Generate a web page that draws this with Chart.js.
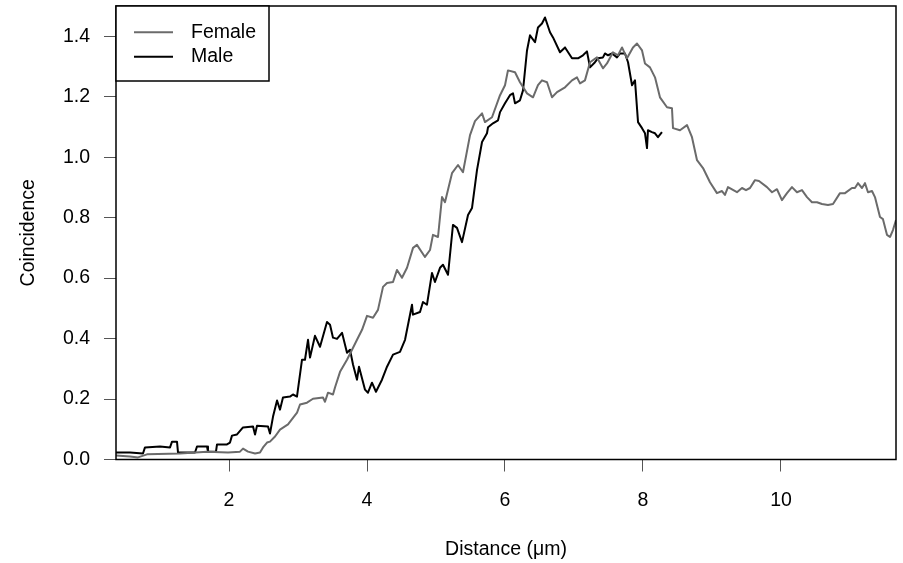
<!DOCTYPE html>
<html>
<head>
<meta charset="utf-8">
<script src="https://cdn.jsdelivr.net/npm/chart.js@4/dist/chart.umd.min.js"></script>
<style>
  body { margin: 0; background: #fff; }
  canvas { display: block; }
</style>
</head>
<body>
<canvas id="coincidenceChart" width="903" height="563"></canvas>
<script>
// values
const femaleX = [0.362, 0.565, 0.681, 0.811, 1.290, 1.681, 1.986, 2.159, 2.203, 2.275, 2.377, 2.449, 2.493, 2.551, 2.594, 2.667, 2.739, 2.855, 2.986, 3.029, 3.130, 3.217, 3.362, 3.391, 3.435, 3.507, 3.536, 3.609, 3.710, 3.783, 3.855, 3.928, 4.000, 4.087, 4.159, 4.232, 4.290, 4.377, 4.435, 4.507, 4.580, 4.667, 4.724, 4.840, 4.913, 4.956, 5.029, 5.087, 5.130, 5.232, 5.319, 5.391, 5.493, 5.565, 5.667, 5.710, 5.812, 5.928, 6.000, 6.043, 6.145, 6.217, 6.319, 6.406, 6.478, 6.536, 6.609, 6.681, 6.754, 6.870, 6.971, 7.043, 7.087, 7.159, 7.232, 7.333, 7.420, 7.478, 7.565, 7.638, 7.696, 7.768, 7.855, 7.913, 7.986, 8.029, 8.101, 8.174, 8.246, 8.348, 8.420, 8.435, 8.536, 8.638, 8.710, 8.783, 8.870, 8.971, 9.072, 9.145, 9.188, 9.232, 9.362, 9.435, 9.493, 9.551, 9.623, 9.681, 9.797, 9.870, 9.942, 10.014, 10.087, 10.159, 10.232, 10.304, 10.377, 10.449, 10.522, 10.594, 10.681, 10.754, 10.855, 10.928, 11.029, 11.072, 11.116, 11.174, 11.217, 11.261, 11.319, 11.362, 11.435, 11.478, 11.536, 11.580, 11.623, 11.667];
const femaleY = [0.013, 0.010, 0.007, 0.017, 0.020, 0.026, 0.023, 0.026, 0.036, 0.026, 0.020, 0.023, 0.040, 0.056, 0.059, 0.076, 0.099, 0.116, 0.155, 0.182, 0.188, 0.201, 0.205, 0.191, 0.221, 0.215, 0.238, 0.290, 0.330, 0.363, 0.396, 0.429, 0.475, 0.469, 0.495, 0.571, 0.584, 0.587, 0.627, 0.601, 0.634, 0.700, 0.710, 0.670, 0.693, 0.743, 0.736, 0.868, 0.851, 0.947, 0.974, 0.950, 1.073, 1.119, 1.145, 1.116, 1.132, 1.205, 1.238, 1.287, 1.281, 1.248, 1.211, 1.198, 1.238, 1.254, 1.248, 1.198, 1.215, 1.231, 1.254, 1.264, 1.244, 1.254, 1.314, 1.330, 1.294, 1.310, 1.347, 1.337, 1.363, 1.327, 1.363, 1.376, 1.353, 1.310, 1.297, 1.264, 1.198, 1.165, 1.162, 1.096, 1.089, 1.106, 1.066, 0.990, 0.964, 0.917, 0.881, 0.888, 0.875, 0.901, 0.884, 0.898, 0.891, 0.898, 0.924, 0.921, 0.901, 0.884, 0.894, 0.858, 0.881, 0.901, 0.884, 0.891, 0.868, 0.851, 0.851, 0.845, 0.842, 0.845, 0.881, 0.881, 0.898, 0.898, 0.914, 0.898, 0.914, 0.884, 0.888, 0.868, 0.802, 0.795, 0.743, 0.736, 0.759, 0.792];

const maleX = [0.362, 0.565, 0.753, 0.782, 1.000, 1.145, 1.174, 1.246, 1.261, 1.507, 1.536, 1.681, 1.695, 1.811, 1.826, 1.971, 2.014, 2.043, 2.116, 2.203, 2.348, 2.377, 2.406, 2.565, 2.594, 2.638, 2.696, 2.739, 2.782, 2.884, 2.927, 2.985, 3.058, 3.101, 3.145, 3.174, 3.246, 3.319, 3.420, 3.464, 3.507, 3.565, 3.638, 3.710, 3.754, 3.797, 3.855, 3.884, 3.971, 4.014, 4.072, 4.130, 4.217, 4.290, 4.377, 4.478, 4.551, 4.652, 4.666, 4.768, 4.811, 4.869, 4.942, 4.985, 5.058, 5.101, 5.174, 5.246, 5.304, 5.377, 5.464, 5.522, 5.594, 5.667, 5.739, 5.754, 5.826, 5.899, 5.928, 6.000, 6.072, 6.116, 6.145, 6.217, 6.261, 6.319, 6.362, 6.435, 6.478, 6.536, 6.580, 6.652, 6.696, 6.797, 6.870, 6.971, 7.058, 7.130, 7.188, 7.232, 7.304, 7.348, 7.420, 7.449, 7.493, 7.551, 7.623, 7.667, 7.739, 7.783, 7.841, 7.884, 7.928, 7.986, 8.029, 8.058, 8.072, 8.130, 8.174, 8.217, 8.275];
const maleY = [0.023, 0.023, 0.020, 0.040, 0.043, 0.040, 0.059, 0.059, 0.023, 0.023, 0.043, 0.043, 0.026, 0.026, 0.050, 0.050, 0.056, 0.079, 0.083, 0.106, 0.109, 0.083, 0.112, 0.109, 0.086, 0.142, 0.195, 0.165, 0.205, 0.208, 0.215, 0.208, 0.330, 0.330, 0.396, 0.337, 0.409, 0.373, 0.455, 0.446, 0.403, 0.399, 0.419, 0.353, 0.363, 0.314, 0.264, 0.307, 0.231, 0.221, 0.254, 0.224, 0.264, 0.307, 0.347, 0.356, 0.396, 0.512, 0.479, 0.488, 0.521, 0.512, 0.617, 0.587, 0.634, 0.644, 0.611, 0.776, 0.766, 0.719, 0.809, 0.832, 0.957, 1.050, 1.079, 1.099, 1.112, 1.122, 1.149, 1.178, 1.205, 1.211, 1.178, 1.188, 1.221, 1.353, 1.403, 1.380, 1.429, 1.442, 1.462, 1.413, 1.396, 1.347, 1.363, 1.327, 1.327, 1.337, 1.350, 1.297, 1.314, 1.327, 1.330, 1.343, 1.337, 1.343, 1.330, 1.343, 1.343, 1.314, 1.238, 1.254, 1.116, 1.096, 1.079, 1.030, 1.089, 1.083, 1.079, 1.066, 1.083];

const seriesNames = ['Female', 'Male'];
const seriesColors = ['#6b6b6b', '#000000'];

const FONT = { family: '"Liberation Sans", Arial, sans-serif', size: 19.5 };

function toPoints(xs, ys) {
  return xs.map((x, i) => ({ x: x, y: ys[i] }));
}

// box around the plotting region, like R's box()
const frame = {
  id: 'frame',
  afterDatasetsDraw(chart) {
    const { ctx, chartArea: a } = chart;
    ctx.save();
    ctx.strokeStyle = '#000';
    ctx.lineWidth = 1.5;
    ctx.strokeRect(a.left, a.top, a.right - a.left, a.bottom - a.top);
    ctx.restore();
  }
};

// legend in the top left corner of the plot
const cornerLegend = {
  id: 'cornerLegend',
  afterDraw(chart) {
    const { ctx, chartArea: a } = chart;
    ctx.save();
    ctx.fillStyle = '#fff';
    ctx.fillRect(a.left, a.top, 153, 75);
    ctx.strokeStyle = '#000';
    ctx.lineWidth = 1.5;
    ctx.strokeRect(a.left, a.top, 153, 75);
    ctx.font = FONT.size + 'px ' + FONT.family;
    ctx.textBaseline = 'middle';
    ctx.textAlign = 'left';
    chart.data.datasets.forEach((ds, i) => {
      const y = a.top + 26.3 + i * 24.4;
      ctx.strokeStyle = ds.borderColor;
      ctx.lineWidth = 2;
      ctx.beginPath();
      ctx.moveTo(a.left + 18, y);
      ctx.lineTo(a.left + 57, y);
      ctx.stroke();
      ctx.fillStyle = '#000';
      ctx.fillText(ds.label, a.left + 75, y);
    });
    ctx.restore();
  }
};

function initChart() {
  const ctx = document.getElementById('coincidenceChart').getContext('2d');
  new Chart(ctx, {
    type: 'line',
    data: {
      datasets: [{
        label: seriesNames[0],
        data: toPoints(femaleX, femaleY),
        borderColor: seriesColors[0],
        borderWidth: 2
      }, {
        label: seriesNames[1],
        data: toPoints(maleX, maleY),
        borderColor: seriesColors[1],
        borderWidth: 2
      }]
    },
    options: {
      responsive: false,
      animation: false,
      devicePixelRatio: 1,
      parsing: false,
      layout: { padding: { left: 0, right: 7, top: 6, bottom: 0 } },
      elements: {
        point: { radius: 0 },
        line: { tension: 0, fill: false, borderJoinStyle: 'round' }
      },
      plugins: {
        legend: { display: false },
        tooltip: { enabled: false }
      },
      scales: {
        x: {
          type: 'linear',
          min: 0.362,
          max: 11.667,
          border: { display: false },
          grid: { drawOnChartArea: false, drawTicks: true, tickLength: 12, color: '#555', lineWidth: 1 },
          ticks: {
            stepSize: 2,
            includeBounds: false,
            maxRotation: 0,
            color: '#000',
            font: FONT,
            padding: 17,
            callback: v => String(v)
          },
          title: {
            display: true,
            text: 'Distance (μm)',
            color: '#000',
            font: FONT,
            padding: { top: 0, bottom: 2 }
          },
          afterFit: s => {
            s.height = 103.5;
            s.paddingLeft = 0;
            s.paddingRight = 0;
          }
        },
        y: {
          min: 0,
          max: 1.5,
          border: { display: false },
          grid: { drawOnChartArea: false, drawTicks: true, tickLength: 12, color: '#555', lineWidth: 1 },
          ticks: {
            stepSize: 0.2,
            includeBounds: false,
            color: '#000',
            font: FONT,
            padding: 14,
            callback: v => v.toFixed(1)
          },
          title: {
            display: true,
            text: 'Coincidence',
            color: '#000',
            font: FONT,
            padding: { top: 17, bottom: 0 }
          },
          afterFit: s => {
            s.width = 116;
            s.paddingTop = 0;
            s.paddingBottom = 0;
          }
        }
      }
    },
    plugins: [frame, cornerLegend]
  });
}

document.addEventListener('DOMContentLoaded', initChart);
</script>
</body>
</html>
